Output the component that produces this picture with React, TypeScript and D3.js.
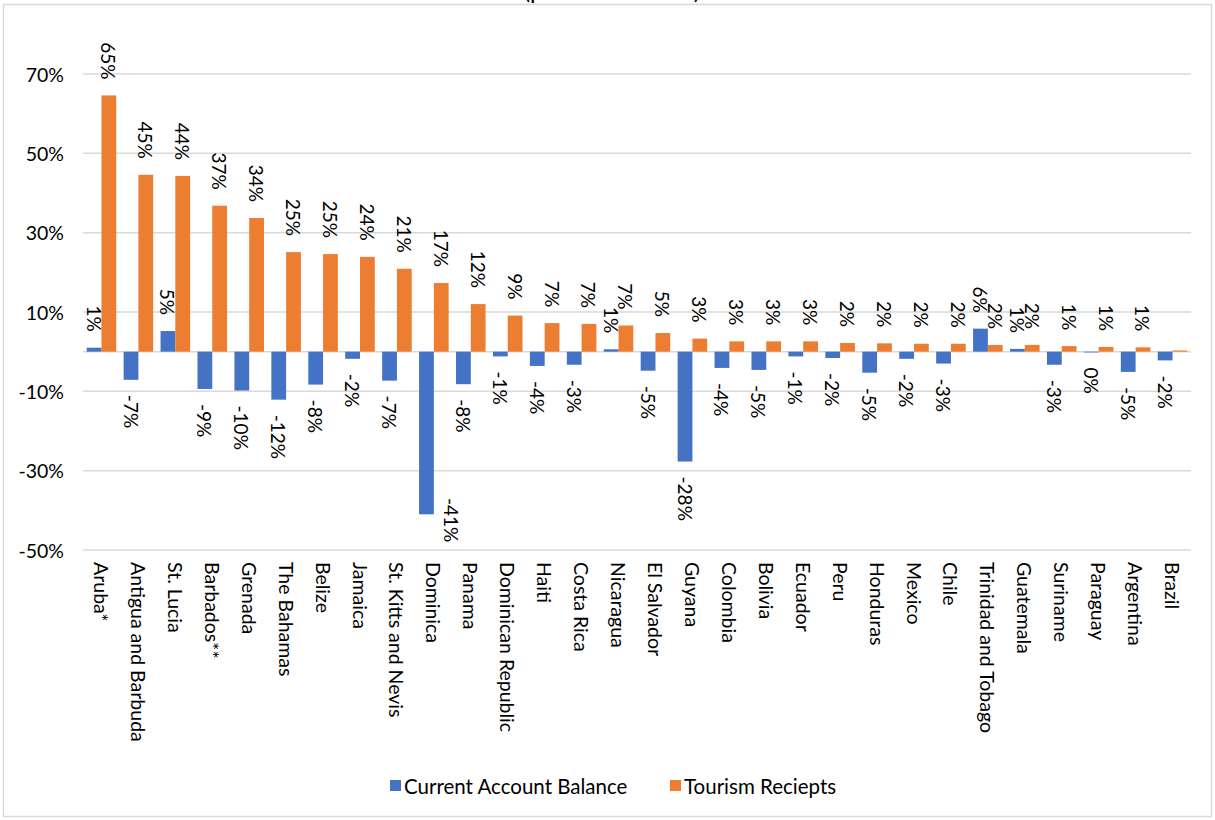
import React from "react";
import * as d3 from "d3";

const categories = [
  "Aruba*", "Antigua and Barbuda", "St. Lucia", "Barbados**", "Grenada", "The Bahamas", "Belize",
  "Jamaica", "St. Kitts and Nevis", "Dominica", "Panama", "Dominican Republic", "Haiti", "Costa Rica",
  "Nicaragua", "El Salvador", "Guyana", "Colombia", "Bolivia", "Ecuador", "Peru", "Honduras", "Mexico",
  "Chile", "Trinidad and Tobago", "Guatemala", "Suriname", "Paraguay", "Argentina", "Brazil",
];

const currentAccount = [
  1.0, -7.1, 5.2, -9.4, -9.8, -12.1, -8.3, -1.8, -7.3, -41.0, -8.2, -1.2, -3.6, -3.3, 0.6,
  -4.8, -27.7, -4.1, -4.6, -1.2, -1.6, -5.3, -1.8, -3.0, 5.8, 0.7, -3.3, -0.2, -5.1, -2.2,
];

const tourism = [
  64.6, 44.6, 44.3, 36.8, 33.7, 25.1, 24.6, 23.9, 20.9, 17.3, 12.0, 9.1, 7.2, 7.0, 6.6,
  4.7, 3.3, 2.6, 2.6, 2.6, 2.2, 2.1, 2.0, 2.0, 1.7, 1.7, 1.4, 1.2, 1.1, 0.3,
];

const tourismHiddenLabels = ["Brazil"];

const yTicks = [-50, -30, -10, 10, 30, 50, 70];
const seriesNames = ["Current Account Balance", "Tourism Reciepts"];
const seriesColors = ["#4472C4", "#ED7D31"];

const W = 1215;
const H = 820;
const FONT = "Lato, Calibri, Carlito, 'Open Sans', sans-serif";

function fmt(v: number) {
  const r = Math.round(v);
  return (r === 0 ? 0 : r) + "%";
}

export default function App() {
  const plot = { left: 83, right: 1191, top: 74, bottom: 550 };
  const y = d3.scaleLinear().domain([-50, 70]).range([plot.bottom, plot.top]);
  const x = d3.scaleBand<string>().domain(categories).range([plot.left, plot.right]).padding(0);
  const sub = d3
    .scaleBand<string>()
    .domain(seriesNames)
    .range([0, x.bandwidth()])
    .paddingInner(0)
    .paddingOuter(0.25);
  const bw = sub.bandwidth();
  const series = [currentAccount, tourism];
  const labelFont = 19;
  const gapPos = 16;
  const gapNeg = 15;

  const bars: React.ReactNode[] = [];
  const labels: React.ReactNode[] = [];
  series.forEach((vals, si) => {
    vals.forEach((v, i) => {
      const cat = categories[i];
      const bx = (x(cat) ?? 0) + (sub(seriesNames[si]) ?? 0);
      const y0 = y(0);
      const yv = y(v);
      bars.push(
        <rect
          key={`b${si}-${i}`}
          x={bx}
          y={Math.min(y0, yv)}
          width={bw}
          height={Math.max(Math.abs(yv - y0), 0.6)}
          fill={seriesColors[si]}
        />
      );
      if (si === 1 && tourismHiddenLabels.includes(cat)) return;
      const cx = bx + bw / 2;
      const text = fmt(v);
      const estLen = text.length * labelFont * 0.62;
      if (v >= 0) {
        labels.push(
          <text
            key={`l${si}-${i}`}
            transform={`translate(${cx},${yv - gapPos}) rotate(90)`}
            textAnchor="end"
            dominantBaseline="central"
            fontSize={labelFont}
            fill="#000"
          >
            {text}
          </text>
        );
      } else {
        let ly = yv + gapNeg;
        let lx = cx;
        if (ly + estLen > plot.bottom) {
          ly = plot.bottom - 5 - estLen;
          lx = cx + bw * 1.7;
        }
        labels.push(
          <text
            key={`l${si}-${i}`}
            transform={`translate(${lx},${ly}) rotate(90)`}
            textAnchor="start"
            dominantBaseline="central"
            fontSize={labelFont}
            fill="#000"
          >
            {text}
          </text>
        );
      }
    });
  });

  return (
    <svg
      width={W}
      height={H}
      style={{ position: "absolute", left: 0, top: 0, background: "#fff" }}
      fontFamily={FONT}
    >
      <rect x={0} y={0} width={W} height={H} fill="#fff" />
      <text x={612} y={-1} textAnchor="middle" fontSize={24} fill="#000">
        (percent of GDP)
      </text>
      <rect x={3.5} y={4.5} width={1208} height={812} fill="none" stroke="#d9d9d9" strokeWidth={1.5} />
      {yTicks.map((t) => (
        <g key={t}>
          <line x1={plot.left} x2={plot.right} y1={y(t)} y2={y(t)} stroke="#d9d9d9" strokeWidth={1.5} />
          <text x={64} y={y(t)} textAnchor="end" dominantBaseline="central" fontSize={19.5} fill="#000">
            {t}%
          </text>
        </g>
      ))}
      <line x1={plot.left} x2={plot.right} y1={y(0)} y2={y(0)} stroke="#d9d9d9" strokeWidth={1.5} />
      {bars}
      {labels}
      {categories.map((c) => (
        <text
          key={c}
          transform={`translate(${(x(c) ?? 0) + x.bandwidth() / 2},${plot.bottom + 12}) rotate(90)`}
          textAnchor="start"
          dominantBaseline="central"
          fontSize={19.5}
          fill="#000"
        >
          {c}
        </text>
      ))}
      <g>
        <rect x={390} y={780} width={11} height={11} fill={seriesColors[0]} />
        <text x={404} y={786} dominantBaseline="central" fontSize={20.5} fill="#000">
          {seriesNames[0]}
        </text>
        <rect x={670} y={780} width={11} height={11} fill={seriesColors[1]} />
        <text x={684} y={786} dominantBaseline="central" fontSize={20.5} fill="#000">
          {seriesNames[1]}
        </text>
      </g>
    </svg>
  );
}
